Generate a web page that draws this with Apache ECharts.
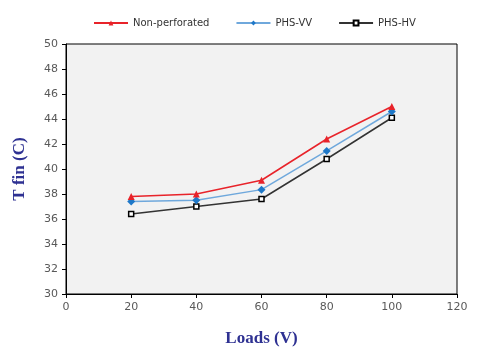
<!DOCTYPE html>
<html>
<head>
<meta charset="utf-8">
<script src="https://cdn.jsdelivr.net/npm/echarts@6/dist/echarts.min.js"></script>
<style>
  html, body { margin: 0; padding: 0; background: #fff; }
  #main { width: 480px; height: 356px; }
</style>
</head>
<body>
<div id="main"></div>
<script>
// data
var loads = [20, 40, 60, 80, 100];
var nonPerforated = [37.8, 38.0, 39.1, 42.4, 45.0];
var phsVV = [37.4, 37.5, 38.35, 41.45, 44.6];
var phsHV = [36.4, 37.0, 37.6, 40.8, 44.1];

function pairs(vals) {
    return loads.map(function (x, i) { return [x, vals[i]]; });
}

var chart = echarts.init(document.getElementById('main'));

chart.setOption({
    animation: false,
    backgroundColor: '#fff',
    legend: {
        top: 13,
        left: 88,
        itemGap: 26,
        itemWidth: 34,
        itemHeight: 6,
        textStyle: { fontFamily: 'DejaVu Sans', fontSize: 10, color: '#333' },
        data: ['Non-perforated', 'PHS-VV', 'PHS-HV']
    },
    grid: {
        left: 66, right: 23, top: 44, bottom: 62,
        show: true,
        backgroundColor: '#f2f2f2',
        borderColor: '#000',
        borderWidth: 1
    },
    xAxis: {
        type: 'value',
        min: 0, max: 120, interval: 20,
        name: 'Loads (V)',
        nameLocation: 'middle',
        nameGap: 36,
        nameTextStyle: { fontFamily: 'Liberation Serif', fontWeight: 'bold', fontSize: 17, color: '#2e3192' },
        axisLine: { lineStyle: { color: '#000' } },
        axisTick: { inside: false, length: 4, lineStyle: { color: '#000' } },
        axisLabel: { color: '#595959', fontFamily: 'DejaVu Sans', fontSize: 11, margin: 8 },
        splitLine: { show: false }
    },
    yAxis: {
        type: 'value',
        min: 30, max: 50, interval: 2,
        name: 'T fin (C)',
        nameLocation: 'middle',
        nameGap: 38,
        nameTextStyle: { fontFamily: 'Liberation Serif', fontWeight: 'bold', fontSize: 17, color: '#2e3192' },
        axisLine: { lineStyle: { color: '#000' } },
        axisTick: { inside: false, length: 4, lineStyle: { color: '#000' } },
        axisLabel: { color: '#595959', fontFamily: 'DejaVu Sans', fontSize: 11, margin: 8 },
        splitLine: { show: false }
    },
    series: [{
        name: 'Non-perforated',
        type: 'line',
        data: pairs(nonPerforated),
        symbol: 'triangle',
        symbolSize: 7,
        lineStyle: { color: '#e8232a', width: 1.5 },
        itemStyle: { color: '#e8232a' },
        z: 4
    }, {
        name: 'PHS-VV',
        type: 'line',
        data: pairs(phsVV),
        symbol: 'diamond',
        symbolSize: 8,
        lineStyle: { color: '#6fa8dc', width: 1.5 },
        itemStyle: { color: '#1f78c8' },
        z: 3
    }, {
        name: 'PHS-HV',
        type: 'line',
        data: pairs(phsHV),
        symbol: 'rect',
        symbolSize: 5,
        lineStyle: { color: '#333', width: 1.5 },
        itemStyle: { color: '#fff', borderColor: '#000', borderWidth: 1.5 },
        z: 2
    }]
});
</script>
</body>
</html>
